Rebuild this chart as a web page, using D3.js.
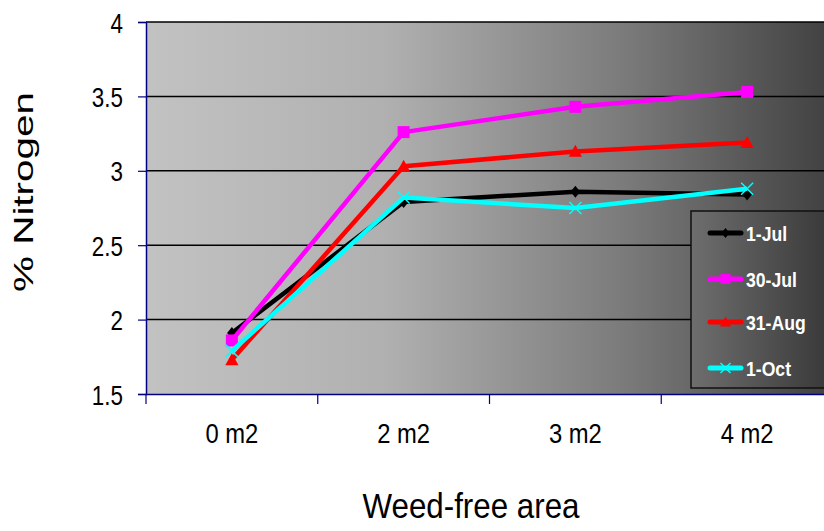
<!DOCTYPE html>
<html><head><meta charset="utf-8">
<script src="https://cdn.jsdelivr.net/npm/d3@7"></script>
<style>body{margin:0;background:#fff;} svg{display:block;}</style>
</head><body>
<svg id="c" width="824" height="531"></svg>
<script>
const categories = ["0 m2", "2 m2", "3 m2", "4 m2"];
const seriesNames = ["1-Jul", "30-Jul", "31-Aug", "1-Oct"];
const jul1 = [1.91, 2.79, 2.86, 2.84];
const jul30 = [1.86, 3.26, 3.43, 3.53];
const aug31 = [1.73, 3.03, 3.13, 3.19];
const oct1 = [1.79, 2.82, 2.75, 2.88];
const yTicks = [1.5, 2, 2.5, 3, 3.5, 4];
const colors = ["#000000", "#ff00ff", "#ff0000", "#00ffff"];
const markers = ["diamond", "square", "triangle", "x"];
const seriesValues = [jul1, jul30, aug31, oct1];

const svg = d3.select("#c");
const L = 146, T = 22, B = 394, R = 833;
const font = "'Liberation Sans',Arial,sans-serif";

function squeeze(sel, k) {
  sel.each(function () {
    const len = this.getComputedTextLength();
    d3.select(this).attr("textLength", len * k).attr("lengthAdjust", "spacingAndGlyphs");
  });
}

const x = d3.scaleBand().domain(categories).range([L, R]);
const y = d3.scaleLinear().domain([1.5, 4]).range([B, T]);

const defs = svg.append("defs");
const g1 = defs.append("linearGradient").attr("id", "bg").attr("x1", "0").attr("x2", "1").attr("y1", "0").attr("y2", "0");
g1.append("stop").attr("offset", "0").attr("stop-color", "#c2c2c2");
g1.append("stop").attr("offset", "0.35").attr("stop-color", "#b0b0b0");
g1.append("stop").attr("offset", "0.7").attr("stop-color", "#7a7a7a");
g1.append("stop").attr("offset", "1").attr("stop-color", "#404040");
const g2 = defs.append("linearGradient").attr("id", "lg").attr("x1", "0").attr("x2", "1").attr("y1", "0").attr("y2", "0");
g2.append("stop").attr("offset", "0").attr("stop-color", "#6e6e6e");
g2.append("stop").attr("offset", "1").attr("stop-color", "#383838");

svg.append("rect").attr("x", L).attr("y", T).attr("width", R - L).attr("height", B - T).attr("fill", "url(#bg)");

// gridlines
svg.append("g").selectAll("line").data(yTicks.slice(1)).join("line")
  .attr("x1", L).attr("x2", R).attr("y1", d => y(d)).attr("y2", d => y(d))
  .attr("stroke", "#000").attr("stroke-width", 1.5);

// y axis
const ya = svg.append("g").attr("transform", `translate(${L},0)`)
  .call(d3.axisLeft(y).tickValues(yTicks).tickSize(8).tickPadding(15).tickFormat(d3.format("")));
ya.select(".domain").attr("stroke", "#000080").attr("stroke-width", 1.5);
ya.selectAll(".tick line").attr("stroke", "#000080").attr("stroke-width", 1.2);
ya.selectAll("text").attr("font-family", font).attr("font-size", 28).attr("fill", "#000").attr("dy", "0.36em");
squeeze(ya.selectAll("text"), 0.8);

// x axis
const xa = svg.append("g").attr("transform", `translate(0,${B})`)
  .call(d3.axisBottom(x).tickSize(0).tickPadding(0));
xa.select(".domain").attr("stroke", "#000080").attr("stroke-width", 1.5);
xa.selectAll("text").attr("font-family", font).attr("font-size", 28).attr("fill", "#000").attr("y", 49).attr("dy", 0);
squeeze(xa.selectAll("text"), 0.85);
svg.append("g").selectAll("line").data(categories).join("line")
  .attr("x1", d => x(d)).attr("x2", d => x(d)).attr("y1", B).attr("y2", B + 10)
  .attr("stroke", "#000080").attr("stroke-width", 1.2);

// titles
const xt = svg.append("text").attr("x", 471).attr("y", 518).attr("text-anchor", "middle")
  .attr("font-family", font).attr("font-size", 35).text("Weed-free area");
xt.attr("textLength", 217).attr("lengthAdjust", "spacingAndGlyphs");
svg.append("text").attr("transform", "translate(33,192) rotate(-90)").attr("text-anchor", "middle")
  .attr("font-family", font).attr("font-size", 28).attr("textLength", 200).attr("lengthAdjust", "spacingAndGlyphs")
  .text("% Nitrogen");

function drawMarker(g, type, cx, cy, color, s) {
  if (type === "diamond") {
    g.append("path").attr("d", `M${cx},${cy - s}L${cx + s * 0.8},${cy}L${cx},${cy + s}L${cx - s * 0.8},${cy}Z`).attr("fill", color);
  } else if (type === "square") {
    g.append("rect").attr("x", cx - s).attr("y", cy - s).attr("width", 2 * s).attr("height", 2 * s).attr("fill", color);
  } else if (type === "triangle") {
    g.append("path").attr("d", `M${cx},${cy - s * 1.1}L${cx + s * 1.1},${cy + s * 0.9}L${cx - s * 1.1},${cy + s * 0.9}Z`).attr("fill", color);
  } else {
    g.append("path").attr("d", `M${cx - s},${cy - s}L${cx + s},${cy + s}M${cx - s},${cy + s}L${cx + s},${cy - s}`)
      .attr("stroke", color).attr("stroke-width", 1.5);
  }
}

const line = d3.line().x((d, i) => x(categories[i]) + x.bandwidth() / 2).y(d => y(d));
seriesValues.forEach((vals, si) => {
  const g = svg.append("g");
  g.append("path").attr("d", line(vals)).attr("fill", "none").attr("stroke", colors[si])
    .attr("stroke-width", 4.5).attr("stroke-linejoin", "round");
  vals.forEach((v, i) => drawMarker(g, markers[si], x(categories[i]) + x.bandwidth() / 2, y(v), colors[si], 6));
});

// legend
const lx = 691, ly = 211;
svg.append("rect").attr("x", lx).attr("y", ly).attr("width", 140).attr("height", 177)
  .attr("fill", "url(#lg)").attr("stroke", "#111").attr("stroke-width", 1.5);
const legY = [233, 279, 322, 368];
seriesNames.forEach((n, i) => {
  const g = svg.append("g");
  g.append("line").attr("x1", 710).attr("x2", 741).attr("y1", legY[i]).attr("y2", legY[i])
    .attr("stroke", colors[i]).attr("stroke-width", 5).attr("stroke-linecap", "round");
  drawMarker(g, markers[i], 725.5, legY[i], colors[i], 5);
  const t = g.append("text").attr("x", 746).attr("y", legY[i] + 8).attr("font-family", font)
    .attr("font-size", 20).attr("font-weight", "bold").attr("fill", "#fff").text(n);
  squeeze(t, 0.88);
});
</script>
</body></html>
